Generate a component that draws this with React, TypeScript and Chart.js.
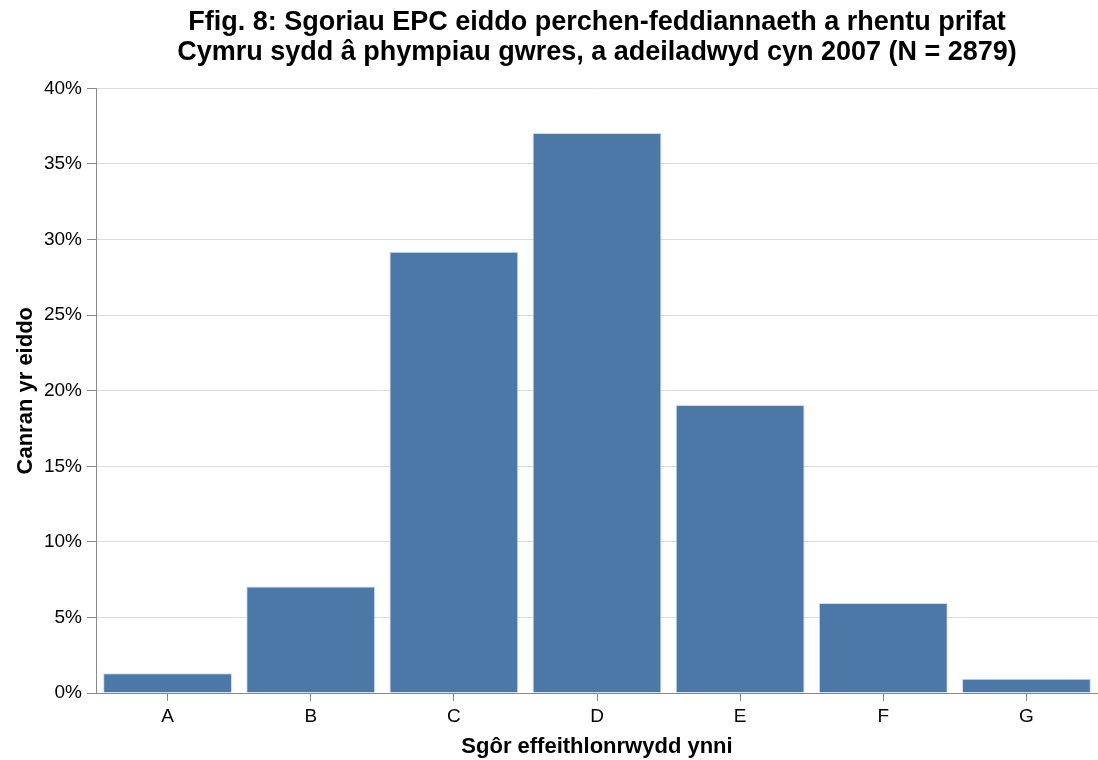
import React, { useEffect, useRef } from "react";
import { Chart, registerables } from "chart.js";

Chart.register(...registerables);

const titleLines = [
  "Ffig. 8: Sgoriau EPC eiddo perchen-feddiannaeth a rhentu prifat",
  "Cymru sydd â phympiau gwres, a adeiladwyd cyn 2007 (N = 2879)",
];
const categories = ["A", "B", "C", "D", "E", "F", "G"];
const percentages = [1.3, 7.05, 29.2, 37.05, 19.05, 5.95, 0.95];
const yTicks = [0, 5, 10, 15, 20, 25, 30, 35, 40];
const xTitle = "Sgôr effeithlonrwydd ynni";
const yTitle = "Canran yr eiddo";

const FONT = "'Liberation Sans', Arial, Helvetica, sans-serif";

export default function App() {
  const ref = useRef<HTMLCanvasElement>(null);
  useEffect(() => {
    if (!ref.current) return;
    const chart = new Chart(ref.current, {
      type: "bar",
      data: {
        labels: categories,
        datasets: [
          {
            data: percentages,
            backgroundColor: "#4c78a8",
            borderColor: "rgba(200,215,235,0.9)",
            borderWidth: 1,
            barPercentage: 0.9,
            categoryPercentage: 1,
          },
        ],
      },
      options: {
        animation: false,
        responsive: false,
        maintainAspectRatio: false,
        layout: { padding: { top: 8, right: 0, left: 0, bottom: 0 } },
        plugins: {
          legend: { display: false },
          tooltip: { enabled: false },
          title: {
            display: true,
            text: titleLines,
            fullSize: false,
            color: "#000",
            font: { family: FONT, size: 27, weight: "bold", lineHeight: 1.1 },
            padding: { top: 0, bottom: 21 },
          },
        },
        scales: {
          x: {
            offset: true,
            grid: {
              offset: false,
              drawOnChartArea: false,
              drawTicks: true,
              tickLength: 8,
              tickColor: "#888",
            },
            border: { color: "#888", width: 1 },
            ticks: {
              color: "#000",
              font: { family: FONT, size: 19 },
              padding: 4,
            },
            title: {
              display: true,
              text: xTitle,
              color: "#000",
              font: { family: FONT, size: 22, weight: "bold" },
              padding: { top: 0, bottom: 0 },
            },
            afterFit: (s: any) => {
              s.height = 67;
            },
          },
          y: {
            min: 0,
            max: 40,
            afterBuildTicks: (s: any) => {
              s.ticks = yTicks.map((v) => ({ value: v }));
            },
            grid: {
              color: "#dddddd",
              tickColor: "#888",
              tickLength: 9,
              lineWidth: 1,
            },
            border: { color: "#888", width: 1 },
            ticks: {
              color: "#000",
              font: { family: FONT, size: 19 },
              padding: 5,
              callback: (v: any) => v + "%",
            },
            title: {
              display: true,
              text: yTitle,
              color: "#000",
              font: { family: FONT, size: 22, weight: "bold" },
              padding: { top: 13, bottom: 0 },
            },
            afterFit: (s: any) => {
              s.width = 96;
            },
          },
        },
      },
    });
    return () => chart.destroy();
  }, []);
  return (
    <div style={{ position: "fixed", left: 0, top: 0, width: 1098, height: 760, background: "#fff" }}>
      <canvas ref={ref} width={1098} height={760} style={{ width: 1098, height: 760 }} />
    </div>
  );
}
